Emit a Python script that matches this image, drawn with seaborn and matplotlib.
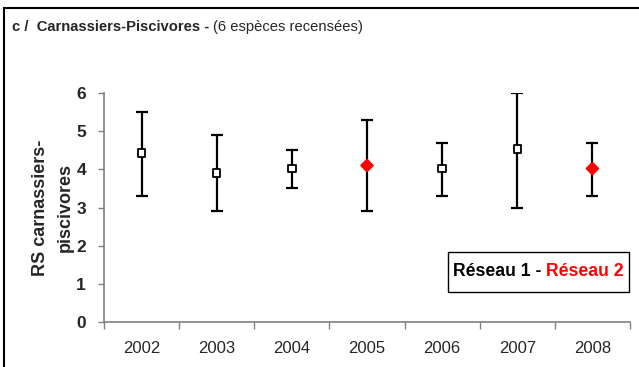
import matplotlib
matplotlib.use("Agg")
import matplotlib.pyplot as plt
from matplotlib.patches import Rectangle
from matplotlib.ticker import FixedLocator
import seaborn as sns
import pandas as pd

years = ["2002", "2003", "2004", "2005", "2006", "2007", "2008"]
mean_rs = [4.43, 3.90, 4.02, 4.10, 4.02, 4.53, 4.02]
low_rs = [3.3, 2.9, 3.5, 2.9, 3.3, 3.0, 3.3]
high_rs = [5.5, 4.9, 4.5, 5.3, 4.7, 6.0, 4.7]
network = ["Réseau 1", "Réseau 1", "Réseau 1", "Réseau 2", "Réseau 1", "Réseau 1", "Réseau 2"]
y_ticks = [0, 1, 2, 3, 4, 5, 6]

sns.set_theme(style="white")
plt.rcParams["font.family"] = ["Liberation Sans", "DejaVu Sans"]

df = pd.DataFrame({"year": years, "rs": mean_rs, "low": low_rs,
                   "high": high_rs, "network": network})
df["pos"] = range(len(df))

W, H = 639, 367
fig = plt.figure(figsize=(W / 100, H / 100), dpi=100)
ax = fig.add_axes([104 / W, 1 - 322 / H, (630 - 104) / W, (322 - 93) / H])

# error bars (min-max) drawn behind the markers
ax.errorbar(df["pos"], df["rs"],
            yerr=[df["rs"] - df["low"], df["high"] - df["rs"]],
            fmt="none", ecolor="black", elinewidth=1.6, capsize=4.3,
            capthick=1.6, zorder=2)

sns.scatterplot(data=df, x="pos", y="rs", hue="network", style="network",
                size="network",
                palette={"Réseau 1": "white", "Réseau 2": "red"},
                markers={"Réseau 1": "s", "Réseau 2": "D"},
                sizes={"Réseau 1": 28, "Réseau 2": 36},
                ax=ax, legend=False, zorder=3)
# marker edges: black square outline for Réseau 1, plain red diamond for Réseau 2
coll = ax.collections[-1]
edge = ["black" if n == "Réseau 1" else "red" for n in df["network"]]
coll.set_edgecolors(edge)
coll.set_linewidths(1.3)

ax.set_xlim(-0.5, len(years) - 0.5)
ax.set_ylim(0, 6)
ax.set_xlabel("")
ax.set_ylabel("RS carnassiers-\npiscivores", fontsize=13, fontweight="bold",
              labelpad=2, linespacing=1.6)

# category boundaries carry the tick marks, labels sit at centres
ax.xaxis.set_major_locator(FixedLocator([i - 0.5 for i in range(len(years) + 1)]))
ax.xaxis.set_minor_locator(FixedLocator(list(range(len(years)))))
ax.set_xticklabels([], minor=False)
ax.set_xticklabels(years, minor=True, fontsize=12)
ax.tick_params(axis="x", which="major", length=5, width=1, color="#808080",
               direction="out", bottom=True)
ax.tick_params(axis="x", which="minor", length=0, pad=14)

ax.set_yticks(y_ticks)
ax.set_yticklabels([str(v) for v in y_ticks], fontsize=12.5, fontweight="bold")
ax.tick_params(axis="y", length=4, width=1, color="#808080", direction="out",
               left=True, pad=9)

for side in ["top", "right"]:
    ax.spines[side].set_visible(False)
for side in ["left", "bottom"]:
    ax.spines[side].set_color("#808080")
    ax.spines[side].set_linewidth(1.2)
ax.grid(False)

# network legend box
box = Rectangle((448 / W, 1 - 292 / H), (629 - 448) / W, 40 / H,
                transform=fig.transFigure, facecolor="white", edgecolor="black",
                linewidth=1.0, zorder=5)
fig.add_artist(box)
t1 = fig.text(453 / W, 1 - 272 / H, "Réseau 1 - ", fontsize=12.7,
              fontweight="bold", color="black", va="center", ha="left", zorder=6)
fig.canvas.draw()
bb = t1.get_window_extent()
fig.text(bb.x1 / W, 1 - 272 / H, "Réseau 2", fontsize=12.7,
         fontweight="bold", color="red", va="center", ha="left", zorder=6)

# title line
tt = fig.text(12 / W, 1 - 27 / H, "c /  Carnassiers-Piscivores - ",
              fontsize=10.6, fontweight="bold", va="center", ha="left")
fig.canvas.draw()
bb2 = tt.get_window_extent()
fig.text(bb2.x1 / W, 1 - 27 / H, "(6 espèces recensées)", fontsize=10.6,
         va="center", ha="left")

# outer frame (top and left edges fall inside the image)
frame = Rectangle((4 / W, -0.05), 1.1, 1 - 8 / H + 0.05,
                  transform=fig.transFigure, facecolor="none",
                  edgecolor="black", linewidth=1.5, clip_on=False)
fig.add_artist(frame)

fig.savefig("out.png", dpi=100)
